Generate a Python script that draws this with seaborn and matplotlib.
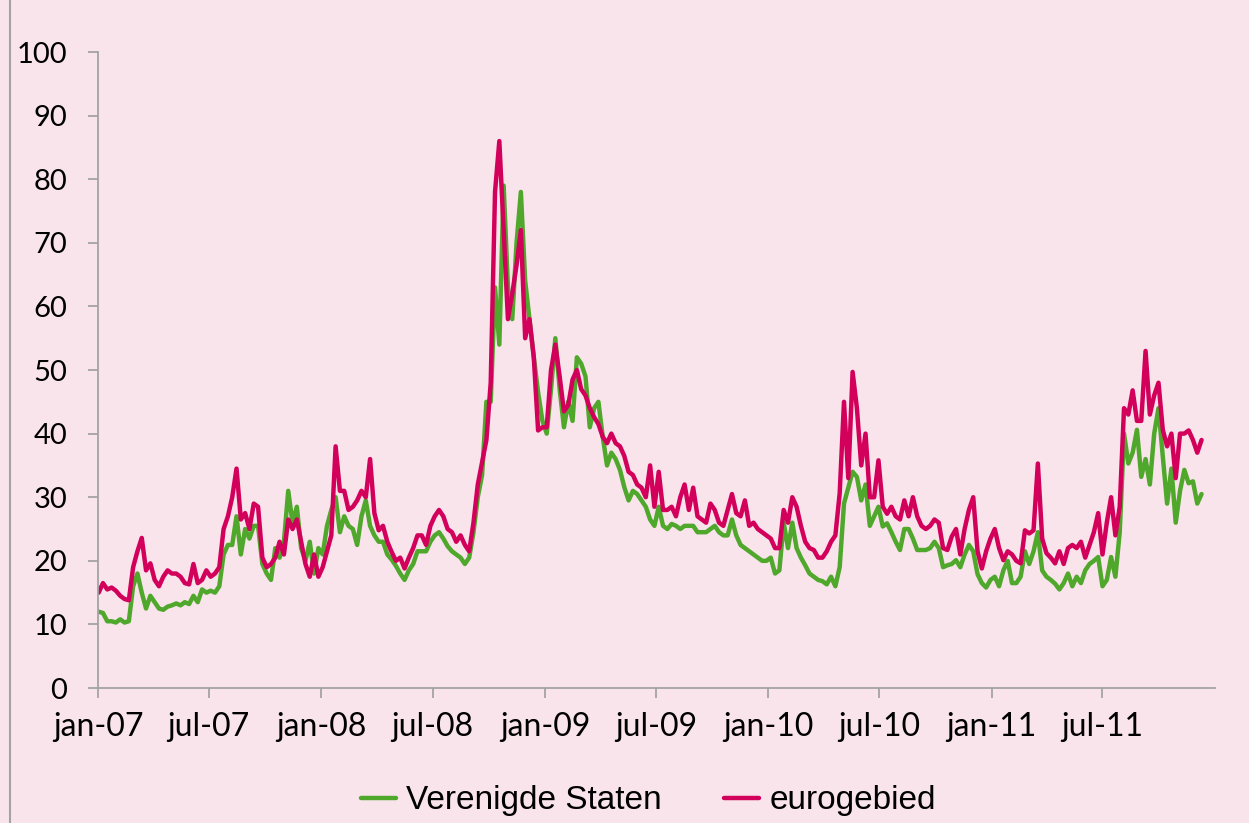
import numpy as np
import pandas as pd
import matplotlib
matplotlib.use("Agg")
import matplotlib.pyplot as plt
import seaborn as sns
from matplotlib.lines import Line2D

# ---------------- data (weekly readings from the chart) ----------------
start_date = "2007-01-02"
end_date = "2011-12-10"

series_names = ["Verenigde Staten", "eurogebied"]
series_colors = ["#4FA82B", "#D3005B"]

us_2007 = [12, 11.8, 10.5, 10.5, 10.3, 10.8, 10.3, 10.5, 16, 18,
           15, 12.5, 14.5, 13.5, 12.5, 12.3, 12.8, 13, 13.3, 13,
           13.5, 13.2, 14.5, 13.5, 15.5, 15, 15.3, 15, 16, 21,
           22.5, 22.5, 27, 21, 25, 23.5, 25.5, 25.5, 19.5, 18,
           17, 22, 20.5, 23, 31, 26, 28.5, 22, 20, 23,
           18, 22]
us_2008 = [21, 25.5, 28, 30, 24.5, 27, 25.5, 25, 22.5, 27,
           29.5, 25.5, 24, 23, 23, 21, 20.2, 19.2, 18, 17,
           18.5, 19.5, 21.5, 21.5, 21.5, 23, 24, 24.5, 23.5, 22.3,
           21.5, 21, 20.5, 19.5, 20.5, 24.5, 30, 33.5, 45, 45,
           63, 54, 79, 63, 58, 70, 78, 64, 58, 52,
           46.5, 42]
us_2009 = [40, 47, 55, 47, 41, 45, 42, 52, 51, 49,
           41, 44, 45, 39.5, 35, 37, 36, 34.3, 31.6, 29.5,
           31, 30.5, 29.5, 28.5, 26.5, 25.5, 28.5, 25.5, 25, 25.8,
           25.5, 25, 25.5, 25.5, 25.5, 24.5, 24.5, 24.5, 25, 25.5,
           24.5, 24, 24, 26.5, 24, 22.5, 22, 21.5, 21, 20.5,
           20, 20]
us_2010 = [20.5, 18, 18.5, 26, 22, 26, 22, 20.5, 19.3, 18,
           17.5, 17, 16.8, 16.3, 17.5, 16, 19, 29, 31.5, 34,
           33.2, 29.5, 32, 25.5, 27, 28.5, 25.4, 25.9, 24.5, 23,
           21.7, 25, 25, 23.5, 21.7, 21.7, 21.7, 22, 23, 22,
           19, 19.3, 19.5, 20.1, 19, 21, 22.5, 21.5, 17.9, 16.5,
           15.8, 17]
us_2011 = [17.5, 16, 18.5, 20, 16.5, 16.5, 17.5, 21.5, 19.5, 21.5,
           24.5, 18.5, 17.5, 17, 16.4, 15.5, 16.5, 18, 16, 17.5,
           16.5, 18.5, 19.5, 20, 20.6, 16, 17, 20.6, 17.5, 24.5,
           40, 35.3, 37, 40.6, 33.2, 36, 32, 40, 44, 36.4,
           29, 34.5, 26, 31, 34.3, 32.2, 32.5, 29, 30.5]

ez_2007 = [15, 16.5, 15.5, 15.8, 15.3, 14.5, 14, 13.8, 19, 21.5,
           23.6, 18.5, 19.6, 17, 16, 17.5, 18.5, 18, 18, 17.5,
           16.5, 16.3, 19.5, 16.5, 17, 18.5, 17.5, 18, 19, 25,
           27, 30, 34.5, 26.5, 27.5, 25, 29, 28.5, 20.5, 19,
           19.5, 20.5, 23, 21, 26.5, 25, 26.5, 23, 19.5, 17.5,
           21, 17.5]
ez_2008 = [19, 21.5, 24, 38, 31, 31, 28, 28.5, 29.5, 31,
           30, 36, 27.5, 24.8, 25.5, 23, 21.4, 20, 20.5, 18.8,
           20.5, 22, 24, 24, 22.5, 25.5, 27, 28, 27, 25,
           24.5, 23, 24, 22.5, 21.5, 26, 32, 35.5, 39, 48,
           78, 86, 72, 58, 62, 66.5, 72, 55, 58, 52,
           40.5, 41]
ez_2009 = [41, 50, 54, 49, 43.5, 44.5, 48.5, 50, 47, 46,
           44, 42.6, 41.5, 39.5, 38.5, 40, 38.5, 38, 36.5, 34,
           33.5, 32, 31.5, 30, 35, 28.5, 34, 28, 28, 28.5,
           27, 30, 32, 28, 31.5, 27, 26.5, 26, 29, 28,
           26, 25.5, 28, 30.5, 27.5, 27, 29.5, 25.5, 26, 25,
           24.5, 24]
ez_2010 = [23.5, 22, 22, 28, 26, 30, 28.5, 25.5, 23, 22,
           21.7, 20.5, 20.5, 21.5, 23, 24, 30.6, 45, 33, 49.7,
           44, 35, 40, 30, 30, 35.8, 28.5, 27.4, 28.5, 27,
           26.5, 29.5, 27, 30, 27, 25.5, 25, 25.5, 26.5, 26,
           22, 21.7, 23.8, 25, 21, 25, 28, 30, 21.5, 18.8,
           21.5, 23.5]
ez_2011 = [25, 22, 20.1, 21.5, 21, 20, 19.6, 24.8, 24.3, 24.8,
           35.3, 23.5, 21.2, 20.5, 19.6, 21.5, 19.5, 22, 22.5, 22,
           23, 20.5, 22.5, 24.5, 27.5, 21, 26, 30, 24, 28.5,
           44, 43, 46.8, 42, 42, 53, 43, 46, 48, 40.6,
           38, 40, 33, 40, 40, 40.5, 39, 37, 39]

tick_dates = ["2007-01-01", "2007-07-01", "2008-01-01", "2008-07-01", "2009-01-01",
              "2009-07-01", "2010-01-01", "2010-07-01", "2011-01-01", "2011-07-01"]
tick_labels = ["jan-07", "jul-07", "jan-08", "jul-08", "jan-09",
               "jul-09", "jan-10", "jul-10", "jan-11", "jul-11"]
y_ticks = [0, 10, 20, 30, 40, 50, 60, 70, 80, 90, 100]

# ---------------- build table ----------------
us = us_2007 + us_2008 + us_2009 + us_2010 + us_2011
ez = ez_2007 + ez_2008 + ez_2009 + ez_2010 + ez_2011
dates = pd.date_range(start_date, end_date, periods=len(us))
df = pd.concat([
    pd.DataFrame({"datum": dates, "waarde": us, "reeks": series_names[0]}),
    pd.DataFrame({"datum": dates, "waarde": ez, "reeks": series_names[1]}),
], ignore_index=True)

# ---------------- style ----------------
bg = "#F9E4EC"
axis_grey = "#A3A3A3"
sns.set_style("ticks")
plt.rcParams["font.family"] = ["Lato", "DejaVu Sans"]
plt.rcParams["text.color"] = "black"

fig = plt.figure(figsize=(12.49, 8.23), dpi=100, facecolor=bg)
ax = fig.add_axes([0.0785, 0.164, 0.8943, 0.7728])
ax.set_facecolor(bg)

sns.lineplot(data=df, x="datum", y="waarde", hue="reeks", hue_order=series_names,
             palette=series_colors, lw=3.2, ax=ax, legend=False)

ax.set_xlim(pd.Timestamp("2007-01-01"), pd.Timestamp("2012-01-01"))
ax.set_ylim(0, 100)
ax.set_xticks(pd.to_datetime(tick_dates))
ax.set_xticklabels(tick_labels)
ax.set_yticks(y_ticks)
ax.set_yticklabels([str(v) for v in y_ticks])
ax.set_xlabel("")
ax.set_ylabel("")

for s in ["top", "right"]:
    ax.spines[s].set_visible(False)
for s in ["left", "bottom"]:
    ax.spines[s].set_color(axis_grey)
    ax.spines[s].set_linewidth(1.3)

ax.tick_params(axis="x", direction="out", length=7, width=1.3, color=axis_grey,
               pad=10, labelsize=23, labelcolor="black")
ax.tick_params(axis="y", direction="out", length=7, width=1.3, color=axis_grey,
               pad=15, labelsize=21, labelcolor="black")

handles = [Line2D([0], [0], color=c, lw=3.2) for c in series_colors]
leg = fig.legend(handles, series_names, loc="center", bbox_to_anchor=(0.519, 0.027),
                 ncol=2, frameon=False, handlelength=1.05, handletextpad=0.3,
                 columnspacing=1.9, prop={"family": "Liberation Sans", "size": 24})
for t in leg.get_texts():
    t.set_color("black")

# left frame line of the chart area
fig.add_artist(Line2D([0.008, 0.008], [0, 1], transform=fig.transFigure,
                      color=axis_grey, lw=1.5))

fig.savefig("out.png", dpi=100, facecolor=bg)
